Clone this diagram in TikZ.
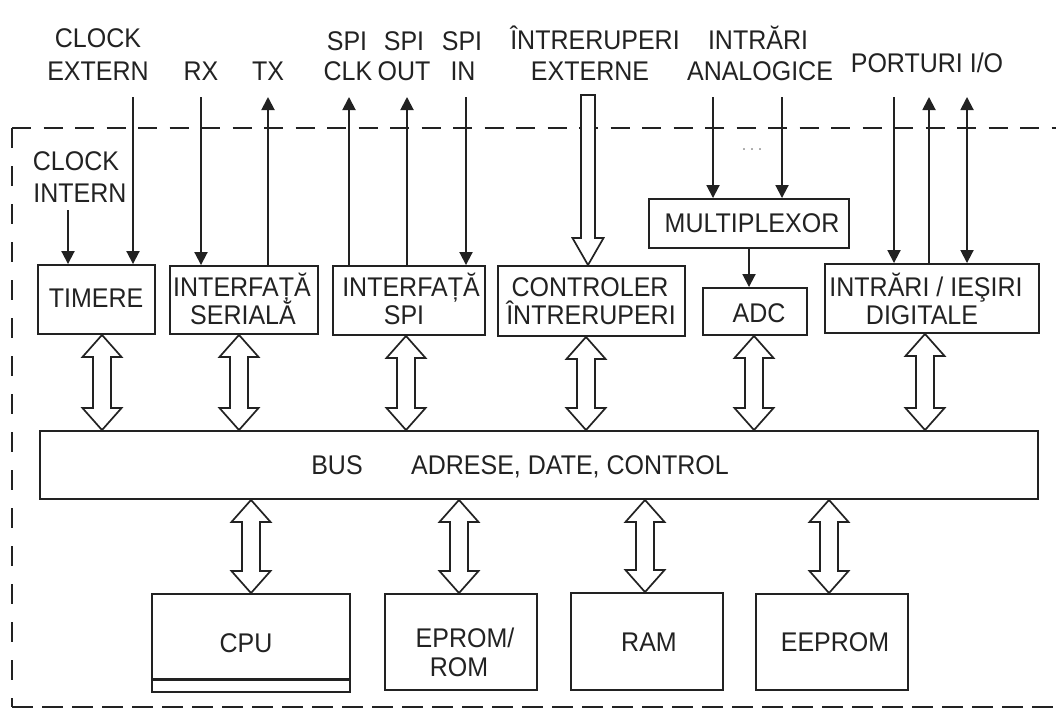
\documentclass[tikz,border=0pt]{standalone}
\usepackage{graphicx}
\usepackage{fontspec}
\setmainfont{Liberation Sans}
\usetikzlibrary{arrows.meta,calc}
\definecolor{ink}{HTML}{222222}
% labels are set slightly taller than the plain face
\newcommand\labtxt[1]{\scalebox{1}[1.08]{#1}}

\begin{document}
\begin{tikzpicture}[x=1pt,y=-1pt,
  box/.style={draw=ink, line width=1.9pt, inner sep=0pt, fill=white},
  txt/.style={inner sep=0pt, anchor=base, text=ink, font=\fontsize{25}{30}\selectfont},
  sig/.style={draw=ink, line width=1.9pt},
  sigin/.style={sig, -{Triangle[length=13pt,width=13pt]}},
  sigboth/.style={sig, {Triangle[length=13pt,width=13pt]}-{Triangle[length=13pt,width=13pt]}},
  border/.style={draw=ink, line width=2.2pt},
  % wide hollow two-way bus arrow, drawn from start (tip) to target (tip)
  dbl/.style={draw=ink, line width=1.7pt, fill=white, line join=miter,
    to path={let \p1=(\tikztostart), \p2=(\tikztotarget) in
      -- (\x1+19.5pt,\y1-22pt) -- (\x1+9pt,\y1-22pt) -- (\x1+9pt,\y2+22pt)
      -- (\x1+19.5pt,\y2+22pt) -- (\x1,\y2) -- (\x1-19.5pt,\y2+22pt)
      -- (\x1-9pt,\y2+22pt) -- (\x1-9pt,\y1-22pt) -- (\x1-19.5pt,\y1-22pt) -- cycle}},
  % narrow hollow one-way arrow with a flat tail
  hollowdown/.style={draw=ink, line width=1.7pt, fill=white, line join=miter,
    to path={let \p1=(\tikztostart), \p2=(\tikztotarget) in
      -- (\x1+7pt,\y1) -- (\x1+7pt,\y2+27pt) -- (\x1+15.5pt,\y2+27pt)
      -- (\x1,\y2) -- (\x1-15.5pt,\y2+27pt) -- (\x1-7pt,\y2+27pt)
      -- (\x1-7pt,\y1) -- cycle}}
]
\useasboundingbox (0,0) rectangle (1056,709);

% chip outline
\draw[border, dash pattern=on 19pt off 12.5pt] (12,128) -- (1056,128);
\draw[border, dash pattern=on 20pt off 18pt] (12,128) -- (12,707);
\draw[border, dash pattern=on 21pt off 9pt] (12,707) -- (1056,707);

% peripheral blocks
\node[box, minimum width=117pt, minimum height=69pt] (timere) at (96.5,299.5) {};
\node[box, minimum width=148pt, minimum height=68pt] (serial) at (244,300) {};
\node[box, minimum width=152pt, minimum height=69pt] (spi) at (409,300.5) {};
\node[box, minimum width=187pt, minimum height=70pt] (ctrl) at (591.5,301) {};
\node[box, minimum width=200pt, minimum height=49pt] (mux) at (749,223.5) {};
\node[box, minimum width=104pt, minimum height=47pt] (adc) at (755,311.5) {};
\node[box, minimum width=214pt, minimum height=69pt] (io) at (932,298.5) {};

% system bus
\node[box, minimum width=998pt, minimum height=68pt] (bus) at (539,465) {};

% core blocks
\node[box, minimum width=198pt, minimum height=98pt] (cpu) at (251,643) {};
\draw[ink, line width=3pt] ([yshift=13pt]cpu.south west) -- ([yshift=13pt]cpu.south east);
\node[box, minimum width=152pt, minimum height=96pt] (eprom) at (461,642) {};
\node[box, minimum width=152pt, minimum height=97pt] (ram) at (647,641.5) {};
\node[box, minimum width=152pt, minimum height=96pt] (eeprom) at (832,642) {};

% external signal labels
\node[txt] (clkA) at (98,48) {\labtxt{CLOCK}};
\node[txt] (clkB) at (98,80) {\labtxt{EXTERN}};
\node[txt] (rxL) at (201,80) {\labtxt{RX}};
\node[txt] (txL) at (268,80) {\labtxt{TX}};
\node[txt] (spiA1) at (347,50) {\labtxt{SPI}};
\node[txt] (spiA2) at (348,80) {\labtxt{CLK}};
\node[txt] (spiB1) at (404,50) {\labtxt{SPI}};
\node[txt] (spiB2) at (404,80) {\labtxt{OUT}};
\node[txt] (spiC1) at (462,50) {\labtxt{SPI}};
\node[txt] (spiC2) at (463,80) {\labtxt{IN}};
\node[txt] (irqA) at (595,49) {\labtxt{ÎNTRERUPERI}};
\node[txt] (irqB) at (590,80) {\labtxt{EXTERNE}};
\node[txt] (anA) at (758,49) {\labtxt{INTRĂRI}};
\node[txt] (anB) at (760,80) {\labtxt{ANALOGICE}};
\node[txt] (portL) at (927,72) {\labtxt{PORTURI I/O}};

% block labels
\node[txt] (ciA) at (76,170) {\labtxt{CLOCK}};
\node[txt] (ciB) at (80,202) {\labtxt{INTERN}};
\node[txt] (timL) at (96,307) {\labtxt{TIMERE}};
\node[txt] (serA) at (242,296) {\labtxt{INTERFAȚĂ}};
\node[txt] (serB) at (243,324) {\labtxt{SERIALĂ}};
\node[txt] (spA) at (411,296) {\labtxt{INTERFAȚĂ}};
\node[txt] (spB) at (404,324) {\labtxt{SPI}};
\node[txt] (ctA) at (590,296) {\labtxt{CONTROLER}};
\node[txt] (ctB) at (591,324) {\labtxt{ÎNTRERUPERI}};
\node[txt] (muxL) at (752,232) {\labtxt{MULTIPLEXOR}};
\node[txt] (adcL) at (759,322) {\labtxt{ADC}};
\node[txt] (ioA) at (926,296) {\labtxt{INTRĂRI / IEŞIRI}};
\node[txt] (ioB) at (922,324) {\labtxt{DIGITALE}};
\node[txt] (busA) at (337,474) {\labtxt{BUS}};
\node[txt] (busB) at (570,474) {\labtxt{ADRESE, DATE, CONTROL}};
\node[txt] (cpuL) at (246,652) {\labtxt{CPU}};
\node[txt] (epA) at (465,647) {\labtxt{EPROM/}};
\node[txt] (epB) at (459,676) {\labtxt{ROM}};
\node[txt] (ramL) at (649,651) {\labtxt{RAM}};
\node[txt] (eeL) at (835,651) {\labtxt{EEPROM}};
\node[inner sep=0pt, text=gray!75, font=\fontsize{18}{18}\selectfont] (dots) at (752,150) {.\,.\,.};

% signal lines
\coordinate (ceTop) at (133,97);
\coordinate (ciTop) at (68,210);
\coordinate (rxTop) at (201,97);
\coordinate (txTop) at (268,97);
\coordinate (sckTop) at (349,97);
\coordinate (sdoTop) at (407,97);
\coordinate (sdiTop) at (466,97);
\coordinate (irqTop) at (588,95);
\coordinate (an1Top) at (713,97);
\coordinate (an2Top) at (782,97);
\coordinate (p1Top) at (894,97);
\coordinate (p2Top) at (929,97);
\coordinate (p3Top) at (967,97);

\draw[sigin] (ceTop) -- (ceTop |- timere.north);
\draw[sigin] (ciTop) -- (ciTop |- timere.north);
\draw[sigin] (rxTop) -- (rxTop |- serial.north);
\draw[sigin] (txTop |- serial.north) -- (txTop);
\draw[sigin] (sckTop |- spi.north) -- (sckTop);
\draw[sigin] (sdoTop |- spi.north) -- (sdoTop);
\draw[sigin] (sdiTop) -- (sdiTop |- spi.north);
\draw[hollowdown] (irqTop) to (irqTop |- ctrl.north);
\draw[sigin] (an1Top) -- (an1Top |- mux.north);
\draw[sigin] (an2Top) -- (an2Top |- mux.north);
\draw[sigin] (mux.south) -- (mux.south |- adc.north);
\draw[sigin] (p1Top) -- (p1Top |- io.north);
\draw[sigin] (p2Top |- io.north) -- (p2Top);
\draw[sigboth] (p3Top) -- (p3Top |- io.north);

% bus connections
\draw[dbl] ([xshift=5.5pt]timere.south) to ([xshift=5.5pt]timere.south |- bus.north);
\draw[dbl] ([xshift=-5pt]serial.south) to ([xshift=-5pt]serial.south |- bus.north);
\draw[dbl] ([xshift=-3pt]spi.south) to ([xshift=-3pt]spi.south |- bus.north);
\draw[dbl] ([xshift=-5.5pt]ctrl.south) to ([xshift=-5.5pt]ctrl.south |- bus.north);
\draw[dbl] ([xshift=-1pt]adc.south) to ([xshift=-1pt]adc.south |- bus.north);
\draw[dbl] ([xshift=-7pt]io.south) to ([xshift=-7pt]io.south |- bus.north);
\draw[dbl] (cpu.north |- bus.south) to (cpu.north);
\draw[dbl] ([xshift=-2pt]eprom.north |- bus.south) to ([xshift=-2pt]eprom.north);
\draw[dbl] ([xshift=-2pt]ram.north |- bus.south) to ([xshift=-2pt]ram.north);
\draw[dbl] ([xshift=-3pt]eeprom.north |- bus.south) to ([xshift=-3pt]eeprom.north);
\end{tikzpicture}
\end{document}
